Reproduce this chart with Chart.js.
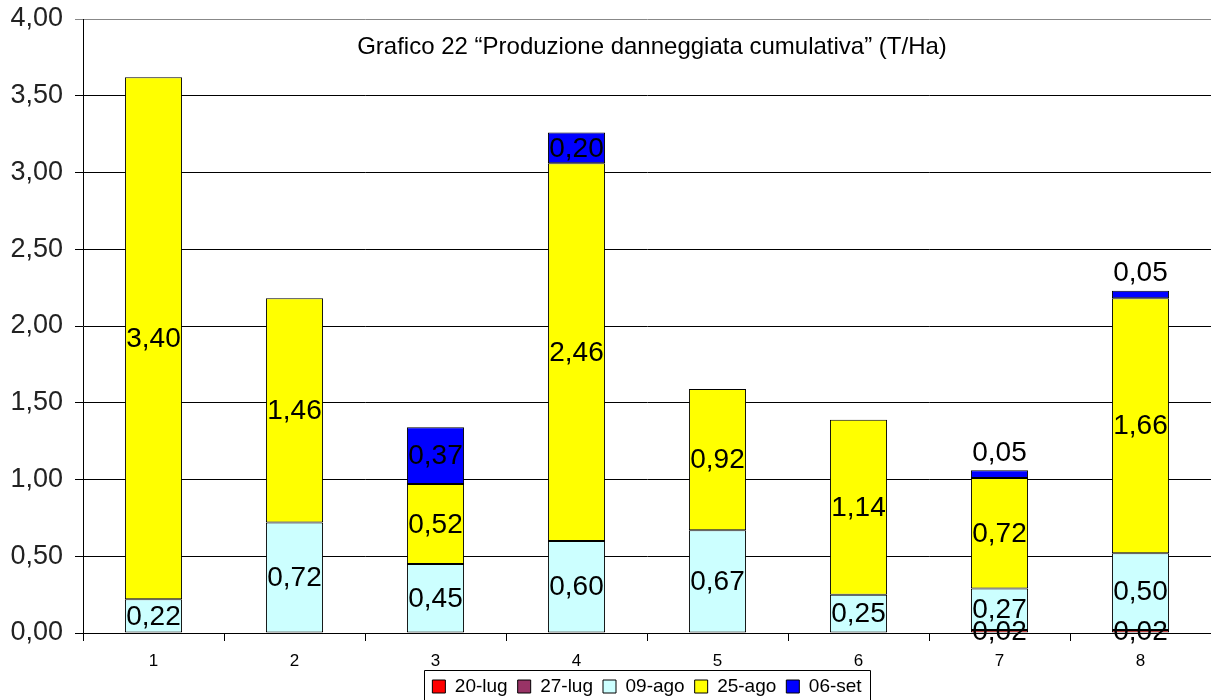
<!DOCTYPE html>
<html>
<head>
<meta charset="utf-8">
<script src="https://cdn.jsdelivr.net/npm/chart.js@4.4.1/dist/chart.umd.min.js"></script>
<style>
html,body{margin:0;padding:0;background:#fff;}
#wrap{width:1211px;height:700px;}
</style>
</head>
<body>
<div id="wrap"><canvas id="c" width="1211" height="700"></canvas></div>
<script>
const categories = ['1','2','3','4','5','6','7','8'];
const lug20 = [null, null, null, null, null, null, 0.02, 0.02];
const lug27 = [null, null, null, null, null, null, null, null];
const ago09 = [0.22, 0.72, 0.45, 0.60, 0.67, 0.25, 0.27, 0.50];
const ago25 = [3.40, 1.46, 0.52, 2.46, 0.92, 1.14, 0.72, 1.66];
const set06 = [null, null, 0.37, 0.20, null, null, 0.05, 0.05];
const seriesNames = ['20-lug', '27-lug', '09-ago', '25-ago', '06-set'];
const chartTitle = 'Grafico 22 \u201cProduzione danneggiata cumulativa\u201d (T/Ha)';
const yTicks = ['0,00','0,50','1,00','1,50','2,00','2,50','3,00','3,50','4,00'];

const FONT = '"Liberation Sans", Arial, sans-serif';
const fmt = v => v.toFixed(2).replace('.', ',');

const colors = ['#FF0000', '#993366', '#CCFFFF', '#FFFF00', '#0000FF'];
const seriesData = [lug20, lug27, ago09, ago25, set06];

const LEG_FONT = 19, LEG_BOX = 13, LEG_PAD = 10;

const datasets = seriesNames.map((n, i) => ({
  label: n,
  data: seriesData[i],
  backgroundColor: colors[i],
  borderColor: '#000',
  borderWidth: 1,
  borderSkipped: false,
  barPercentage: 0.405,
  categoryPercentage: 1.0
}));

const labelsPlugin = {
  id: 'barLabels',
  afterDatasetsDraw(chart) {
    const ctx = chart.ctx;
    ctx.save();
    ctx.font = '28px ' + FONT;
    ctx.fillStyle = '#000';
    ctx.textAlign = 'center';
    ctx.textBaseline = 'middle';
    chart.data.datasets.forEach((ds, di) => {
      const meta = chart.getDatasetMeta(di);
      meta.data.forEach((el, i) => {
        const v = ds.data[i];
        if (v === null || v === undefined || v <= 0) return;
        let y = (el.y + el.base) / 2;
        if (di === 4 && v < 0.1) y = el.y - 18;
        ctx.fillText(fmt(v), el.x, y + 1);
      });
    });
    ctx.restore();
  }
};

const titlePlugin = {
  id: 'innerTitle',
  afterDraw(chart) {
    const ctx = chart.ctx;
    ctx.save();
    ctx.font = '24px ' + FONT;
    ctx.fillStyle = '#000';
    ctx.textAlign = 'center';
    ctx.textBaseline = 'middle';
    ctx.fillText(chartTitle, 652, 47);
    ctx.restore();
  }
};

const legendPlacePlugin = {
  id: 'legendPlace',
  afterLayout(chart) {
    const lg = chart.legend;
    if (!lg) return;
    const ca = chart.chartArea;
    const target = (ca.left + ca.right) / 2;
    const shift = target - (lg.left + lg.right) / 2;
    lg.left += shift;
    lg.right += shift;
  },
  afterDraw(chart) {
    const lg = chart.legend;
    if (!lg) return;
    const ctx = chart.ctx;
    ctx.save();
    ctx.font = LEG_FONT + 'px ' + FONT;
    let total = 0;
    chart.data.datasets.forEach((ds, i) => {
      total += LEG_BOX + LEG_FONT / 2 + ctx.measureText(ds.label).width;
    });
    total += LEG_PAD * (chart.data.datasets.length - 1);
    const cx = (lg.left + lg.right) / 2;
    const left = Math.round(cx - total / 2 - 8) + 0.5;
    const right = Math.round(cx + total / 2 + 8) + 0.5;
    const top = 670.5;
    ctx.strokeStyle = '#000';
    ctx.lineWidth = 1;
    ctx.beginPath();
    ctx.moveTo(left, 702);
    ctx.lineTo(left, top);
    ctx.lineTo(right, top);
    ctx.lineTo(right, 702);
    ctx.stroke();
    ctx.restore();
  }
};

new Chart(document.getElementById('c'), {
  type: 'bar',
  data: { labels: categories, datasets },
  options: {
    responsive: false,
    animation: false,
    layout: { padding: { top: 19, right: 0, left: 0, bottom: -6 } },
    plugins: {
      legend: {
        position: 'bottom',
        labels: {
          font: { size: LEG_FONT, family: FONT },
          color: '#000',
          boxWidth: LEG_BOX,
          boxHeight: LEG_BOX,
          padding: LEG_PAD,
          generateLabels(chart) {
            return chart.data.datasets.map((ds, i) => ({
              text: ds.label,
              fillStyle: ds.backgroundColor,
              strokeStyle: '#000',
              lineWidth: 1,
              hidden: false,
              datasetIndex: i
            }));
          }
        },
        onClick: null
      },
      tooltip: { enabled: false }
    },
    scales: {
      x: {
        stacked: true,
        grid: { display: true, drawOnChartArea: false, drawTicks: true, tickLength: 8, color: '#000', offset: true },
        border: { display: true, color: '#000' },
        ticks: { font: { size: 17, family: FONT }, color: '#000', padding: 10, maxRotation: 0 },
        afterFit(scale) { scale.height = 34; scale.paddingLeft = 0; scale.paddingRight = 0; }
      },
      y: {
        stacked: true,
        min: 0,
        max: 4,
        ticks: {
          stepSize: 0.5,
          font: { size: 27, family: FONT },
          color: '#222',
          padding: 12,
          callback: (v, i) => yTicks[i]
        },
        grid: {
          color: c => (c.tick && c.tick.value === 4) ? '#888' : '#000',
          tickLength: 8,
          lineWidth: 1
        },
        border: { display: true, color: '#000' },
        afterFit(scale) { scale.width = 83; scale.paddingTop = 0; scale.paddingBottom = 0; }
      }
    }
  },
  plugins: [labelsPlugin, titlePlugin, legendPlacePlugin]
});
</script>
</body>
</html>
